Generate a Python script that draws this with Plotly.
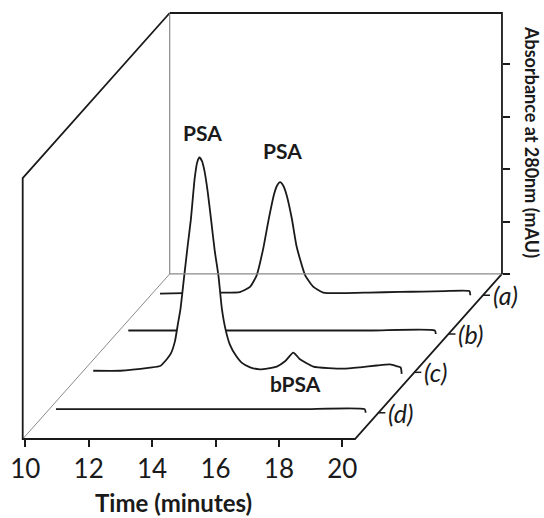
import plotly.graph_objects as go

# ---------------- data (time in minutes, absorbance in axis units) ----------------
series_names = ["(a)", "(b)", "(c)", "(d)"]

time_a = [10.21, 10.94, 12.10, 12.73, 13.05, 13.26, 13.47, 13.63, 13.81, 13.90, 14.00,
          14.10, 14.21, 14.37, 14.52, 14.79, 15.05, 15.36, 15.89, 16.80, 17.78, 18.50,
          19.20, 19.97, 20.00]
abs_a = [0.03, 0.04, 0.05, 0.06, 0.16, 0.38, 0.90, 1.42, 1.93, 2.09, 2.16,
         2.09, 1.90, 1.46, 0.93, 0.38, 0.16, 0.05, 0.04, 0.05, 0.063, 0.07,
         0.08, 0.08, 0.0]

time_b = [10.30, 12.00, 14.00, 16.00, 18.00, 19.97, 20.00]
abs_b = [0.067, 0.067, 0.067, 0.067, 0.067, 0.067, 0.0]

time_c = [10.27, 11.12, 12.06, 12.38, 12.59, 12.72, 12.85, 12.94, 13.02, 13.14, 13.25,
          13.35, 13.47, 13.55, 13.62, 13.70, 13.78, 13.88, 13.99, 14.10, 14.22, 14.33,
          14.45, 14.58, 14.77, 14.95, 15.22, 15.53, 16.06, 16.32, 16.58, 16.79, 17.21,
          18.16, 18.69, 19.21, 19.63, 19.85, 19.97, 20.00]
abs_c = [0.03, 0.03, 0.09, 0.12, 0.25, 0.36, 0.60, 0.92, 1.20, 1.84, 2.42,
         2.92, 3.70, 4.01, 4.10, 4.03, 3.84, 3.45, 2.90, 2.33, 1.84, 1.20,
         0.80, 0.53, 0.32, 0.185, 0.095, 0.057, 0.11, 0.21, 0.376, 0.25, 0.11,
         0.07, 0.095, 0.13, 0.15, 0.115, 0.09, -0.03]

time_d = [10.23, 12.00, 14.00, 16.00, 18.00, 19.97, 20.00]
abs_d = [0.07, 0.07, 0.07, 0.07, 0.07, 0.07, 0.0]

x_ticks = [10, 12, 14, 16, 18, 20]
abs_ticks = [0, 1, 2, 3, 4]

# ---------------- pseudo-3D projection settings ----------------
W, H = 544, 518
SX, SY = 31.7, 52.4            # px per minute, px per absorbance unit
X0, Y0 = 9.2019, -1.5076        # axis range starts
X1, Y1 = X0 + W / SX, Y0 + H / SY
DX, DY = 4.637, 3.15            # full-depth offset in data units
T0, T1, ATOP = 9.918, 20.40, 4.98  # box extent
depths = [0.871, 0.636, 0.404, 0.159]
FONT = "Lato, Carlito, Calibri, 'Open Sans', sans-serif"
BLACK = "#1a1a1a"
GREY = "#8a8a8a"


def px2d(px, py):
    return X0 + px / SX, Y0 + (H - py) / SY


fig = go.Figure()


def seg(xs, ys, color, width, yaxis="y"):
    fig.add_trace(go.Scatter(x=xs, y=ys, mode="lines", yaxis=yaxis,
                             line=dict(color=color, width=width),
                             hoverinfo="skip", showlegend=False))


# back plane (drawn on y2, whose zero is at the back)
seg([T0 + DX, T0 + DX], [0, ATOP], GREY, 1.2, "y2")
seg([T0 + DX, T1 + DX], [0, 0], GREY, 1.2, "y2")
seg([T0 + DX, T1 + DX, T1 + DX], [ATOP, ATOP, 0], BLACK, 1.8, "y2")
# floor diagonal (left, thin)
seg([T0, T0 + DX], [0, DY], GREY, 1.0)
# front frame
seg([T0 + DX, T0, T0, T1, T1 + DX], [ATOP + DY, ATOP, 0, 0, DY], BLACK, 1.8)

# depth ticks on the right floor diagonal
tx, ty = [], []
for k in depths:
    tx += [T1 + k * DX, T1 + k * DX + 7 / SX, None]
    ty += [k * DY, k * DY, None]
seg(tx, ty, BLACK, 1.5)

# series, back to front, each filled white to hide what lies behind
all_series = [(time_a, abs_a), (time_b, abs_b), (time_c, abs_c), (time_d, abs_d)]
for (ts, vs), k in zip(all_series, depths):
    xs = [t + k * DX for t in ts]
    ys = [v + k * DY for v in vs]
    fig.add_trace(go.Scatter(x=[xs[0], xs[-1]], y=[k * DY, k * DY], mode="lines",
                             line=dict(width=0, color="white"),
                             hoverinfo="skip", showlegend=False))
    fig.add_trace(go.Scatter(x=xs, y=ys, mode="lines", fill="tonexty",
                             fillcolor="white",
                             line=dict(color=BLACK, width=1.8, shape="spline",
                                       smoothing=0.5),
                             hoverinfo="skip", showlegend=False))

annotations = []


def label(text, px, py, size, angle=0, xanchor="center"):
    x, y = px2d(px, py)
    annotations.append(dict(x=x, y=y, xref="x", yref="y", text=text, showarrow=False,
                            textangle=angle, xanchor=xanchor, yanchor="middle",
                            font=dict(family=FONT, size=size, color=BLACK)))


label("<b>PSA</b>", 202, 132, 21)
label("<b>PSA</b>", 282, 150, 21)
label("<b>bPSA</b>", 295, 383, 21)
label("<b>Time (minutes)</b>", 173, 502, 24)
label("<b>Absorbance at 280nm (mAU)</b>", 532, 142, 18, angle=90)

for name, k in zip(series_names, depths):
    x = T1 + k * DX + 8 / SX
    y = k * DY
    annotations.append(dict(x=x, y=y, xref="x", yref="y", text="<i>" + name + "</i>",
                            showarrow=False, xanchor="left", yanchor="middle",
                            font=dict(family=FONT, size=25, color=BLACK)))

fig.update_layout(
    width=W, height=H, margin=dict(l=0, r=0, t=0, b=0),
    paper_bgcolor="white", plot_bgcolor="white", showlegend=False,
    annotations=annotations,
    xaxis=dict(range=[X0, X1], domain=[0, 1], anchor="free", position=(H - 439) / H,
               tickvals=x_ticks, ticks="outside", ticklen=7, tickwidth=1.5,
               tickcolor=BLACK, showline=False, showgrid=False, zeroline=False,
               tickfont=dict(family=FONT, size=26, color=BLACK)),
    yaxis=dict(range=[Y0, Y1], domain=[0, 1], visible=False),
    yaxis2=dict(range=[Y0 - DY, Y1 - DY], overlaying="y", side="right", anchor="free",
                position=(T1 + DX - X0) * SX / W, tickvals=abs_ticks, ticks="outside",
                ticklen=7, tickwidth=1.5, tickcolor=BLACK, showticklabels=False,
                showgrid=False, zeroline=False, showline=False),
)

fig.write_html("out.html")
